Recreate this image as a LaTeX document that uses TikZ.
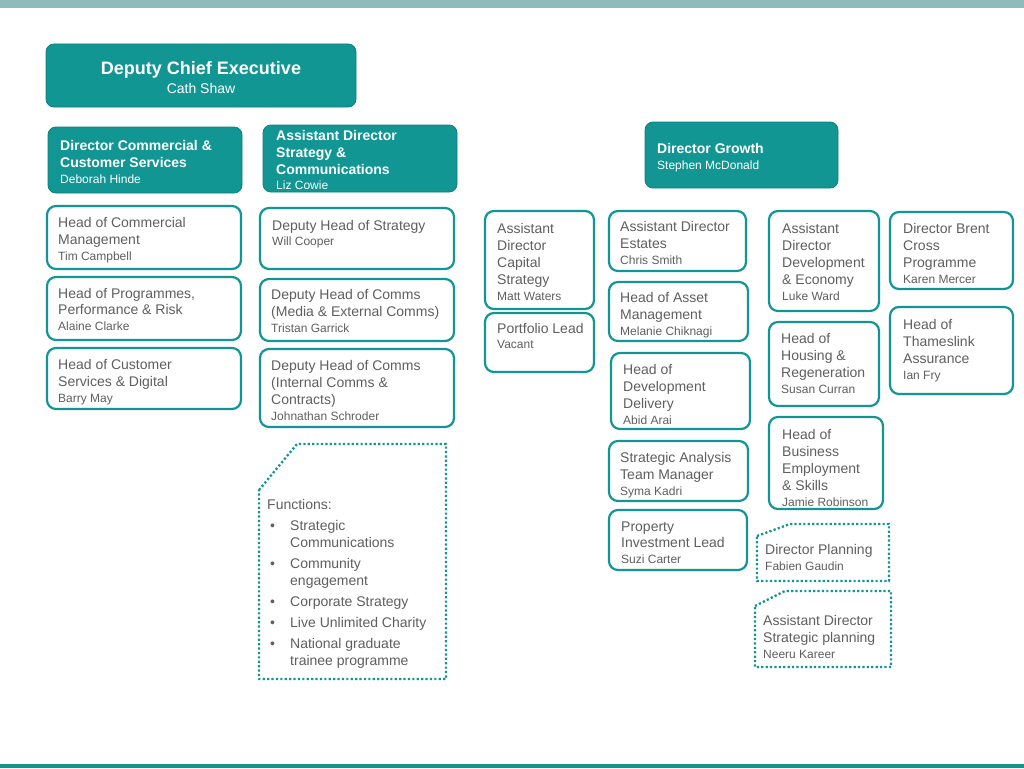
\documentclass[tikz,border=0pt]{standalone}
\usepackage{fontspec}
\setmainfont{Liberation Sans}
\definecolor{teal1}{RGB}{18,150,148}
\definecolor{tealdk}{RGB}{12,128,126}
\definecolor{topbar}{RGB}{143,188,187}
\definecolor{botbar}{RGB}{14,150,136}
\definecolor{txtgray}{RGB}{95,95,95}
\newcommand\nm{\fontsize{12}{15}\selectfont\mdseries}
\newcommand\fl{\rule{0pt}{13pt}}
\tikzset{
  fillbox/.style={fill=teal1, draw=tealdk, line width=0.8pt, rounded corners=8pt, inner sep=0pt, outer sep=0pt},
  linebox/.style={draw=teal1, line width=2.2pt, rounded corners=9pt, inner sep=0pt, outer sep=0pt, fill=white},
  dotbox/.style={draw=teal1, line width=2.3pt, dash pattern=on 2.2pt off 2.2pt},
  lineboxt/.style={inner sep=0pt, align=left, text=txtgray, font=\fontsize{14}{17}\selectfont},
  fillboxt/.style={lineboxt, text=white, font=\fontsize{14}{17}\selectfont\bfseries},
}
% #1 style, #2 name, #3 x, #4 y, #5 w, #6 h, #7 text x, #8 first baseline, #9 text
\newcommand\mkbox[9]{%
  \node[#1, minimum width=#5pt, minimum height=#6pt, anchor=north west] (#2) at (#3,#4) {};
  \node[#1t, anchor=north west] (#2t) at (#7,#8-8) {\fl #9};
}
\begin{document}
\begin{tikzpicture}[x=1pt, y=-1pt]
\useasboundingbox (0,0) rectangle (1024,768);
\fill[white] (0,0) rectangle (1024,768);
\fill[topbar] (0,0) rectangle (1024,8);
\fill[botbar] (0,764) rectangle (1024,768);

% top
\node[fillbox, minimum width=310pt, minimum height=63pt, anchor=north west] (dce) at (46,44) {};
\node[inner sep=0pt, align=center, text=white, font=\fontsize{14}{19}\selectfont, anchor=north] (dcet) at (201,68-10)
  {\rule{0pt}{16pt}{\fontsize{18}{19}\selectfont\bfseries Deputy Chief Executive}\\Cath Shaw};

\mkbox{fillbox}{dcs}{48}{127}{194}{66}{60}{145}{Director Commercial \&\\Customer Services\\[-1pt]{\nm Deborah Hinde}}
\mkbox{fillbox}{ads}{263}{125}{194}{67}{276}{135}{Assistant Director\\Strategy \&\\Communications\\[-2pt]{\nm Liz Cowie}}
\mkbox{fillbox}{dg}{645}{122}{193}{66}{657}{148}{Director Growth\\[-1pt]{\nm Stephen McDonald}}

% column 1
\mkbox{linebox}{hcm}{47}{206}{194}{63}{58}{222}{Head of Commercial\\Management\\[-1pt]{\nm Tim Campbell}}
\mkbox{linebox}{hpp}{47}{277}{194}{63}{58}{293}{Head of Programmes,\\[-1pt]Performance \& Risk\\[-1pt]{\nm Alaine Clarke}}
\mkbox{linebox}{hcs}{47}{348}{194}{61}{58}{364}{Head of Customer\\Services \& Digital\\[-1pt]{\nm Barry May}}

% column 2
\mkbox{linebox}{dhs}{260}{208}{194}{61}{272}{225}{Deputy Head of Strategy\\[-2pt]{\nm Will Cooper}}
\mkbox{linebox}{dhm}{260}{279}{194}{62}{271}{294}{Deputy Head of Comms\\(Media \& External Comms)\\[-1pt]{\nm Tristan Garrick}}
\mkbox{linebox}{dhi}{260}{349}{194}{78}{271}{365}{Deputy Head of Comms\\(Internal Comms \&\\Contracts)\\[-1pt]{\nm Johnathan Schroder}}

\draw[dotbox] (259,490) -- (297,444) -- (446,444) -- (446,679) -- (259,679) -- cycle;
\node[lineboxt, anchor=north west] (func) at (267,504-8)
  {\fl Functions:\\[4pt]
   \makebox[23pt][l]{\hspace{3pt}•}Strategic\\
   \hspace*{23pt}Communications\\[4pt]
   \makebox[23pt][l]{\hspace{3pt}•}Community\\
   \hspace*{23pt}engagement\\[4pt]
   \makebox[23pt][l]{\hspace{3pt}•}Corporate Strategy\\[4pt]
   \makebox[23pt][l]{\hspace{3pt}•}Live Unlimited Charity\\[4pt]
   \makebox[23pt][l]{\hspace{3pt}•}National graduate\\
   \hspace*{23pt}trainee programme};

% column 3
\mkbox{linebox}{adc}{485}{211}{109}{98}{497}{228}{Assistant\\Director\\Capital\\Strategy\\[-1pt]{\nm Matt Waters}}
\mkbox{linebox}{pl}{485}{313}{109}{59}{497}{328}{Portfolio Lead\\[-2pt]{\nm Vacant}}

% column 4
\mkbox{linebox}{ade}{609}{211}{137}{60}{620}{226}{Assistant Director\\Estates\\[-1pt]{\nm Chris Smith}}
\mkbox{linebox}{ham}{609}{282}{139}{59}{620}{297}{Head of Asset\\Management\\[-1pt]{\nm Melanie Chiknagi}}
\mkbox{linebox}{hdd}{611}{353}{139}{76}{623}{369}{Head of\\Development\\Delivery\\[-1pt]{\nm Abid Arai}}
\mkbox{linebox}{sat}{609}{441}{139}{60}{620}{457}{Strategic Analysis\\Team Manager\\[-1pt]{\nm Syma Kadri}}
\mkbox{linebox}{pil}{609}{510}{138}{60}{621}{526}{Property\\[-1pt]Investment Lead\\[-1pt]{\nm Suzi Carter}}

% column 5
\mkbox{linebox}{add}{769}{211}{110}{100}{782}{228}{Assistant\\Director\\Development\\\& Economy\\[-1pt]{\nm Luke Ward}}
\mkbox{linebox}{hhr}{769}{322}{110}{84}{781}{338}{Head of\\Housing \&\\Regeneration\\[-1pt]{\nm Susan Curran}}
\mkbox{linebox}{hbe}{769}{417}{114}{92}{782}{434}{Head of\\Business\\Employment\\\& Skills\\[-1pt]{\nm Jamie Robinson}}

\draw[dotbox] (757,536) -- (790,524) -- (889,524) -- (889,581) -- (757,581) -- cycle;
\node[lineboxt, anchor=north west] (dpt) at (765,549-8) {\fl Director Planning\\[-1pt]{\nm Fabien Gaudin}};
\draw[dotbox] (755,606) -- (785,591) -- (891,591) -- (891,667) -- (755,667) -- cycle;
\node[lineboxt, anchor=north west] (aspt) at (763,620-8) {\fl Assistant Director\\Strategic planning\\[-1pt]{\nm Neeru Kareer}};

% column 6
\mkbox{linebox}{dbc}{890}{212}{123}{77}{903}{228}{Director Brent\\Cross\\Programme\\[-1pt]{\nm Karen Mercer}}
\mkbox{linebox}{hta}{890}{307}{123}{87}{903}{324}{Head of\\Thameslink\\Assurance\\[-1pt]{\nm Ian Fry}}
\end{tikzpicture}
\end{document}
